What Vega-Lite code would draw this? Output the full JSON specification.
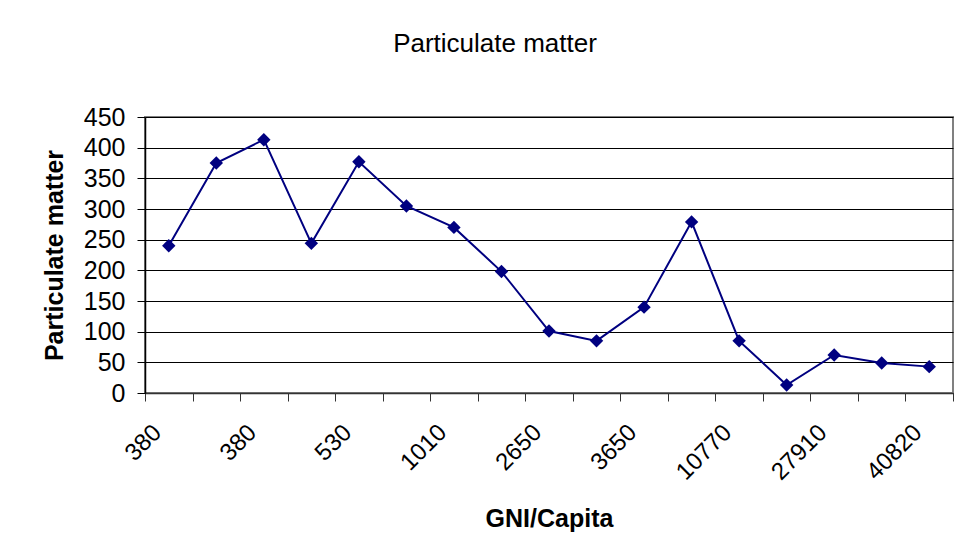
{
  "$schema": "https://vega.github.io/schema/vega-lite/v6.json",
  "width": 808,
  "height": 276,
  "autosize": "none",
  "padding": {"left": 145, "top": 117, "right": 5, "bottom": 162},
  "background": "white",
  "title": {
    "text": "Particulate matter",
    "font": "Liberation Sans",
    "fontSize": 26,
    "fontWeight": "normal",
    "color": "#000000",
    "anchor": "middle",
    "dx": -54,
    "offset": 48
  },
  "data": {
    "values": [
      {"n": 1, "gni": "380", "pm": 240},
      {"n": 2, "gni": "", "pm": 375},
      {"n": 3, "gni": "380", "pm": 413},
      {"n": 4, "gni": "", "pm": 244},
      {"n": 5, "gni": "530", "pm": 377},
      {"n": 6, "gni": "", "pm": 305},
      {"n": 7, "gni": "1010", "pm": 270},
      {"n": 8, "gni": "", "pm": 198},
      {"n": 9, "gni": "2650", "pm": 101},
      {"n": 10, "gni": "", "pm": 85},
      {"n": 11, "gni": "3650", "pm": 140},
      {"n": 12, "gni": "", "pm": 279},
      {"n": 13, "gni": "10770", "pm": 85},
      {"n": 14, "gni": "", "pm": 13},
      {"n": 15, "gni": "27910", "pm": 62},
      {"n": 16, "gni": "", "pm": 49},
      {"n": 17, "gni": "40820", "pm": 43}
    ]
  },
  "encoding": {
    "x": {
      "field": "n",
      "type": "ordinal",
      "scale": {"type": "band", "paddingInner": 0, "paddingOuter": 0},
      "axis": {
        "title": "GNI/Capita",
        "titleFont": "Liberation Sans",
        "titleFontSize": 25,
        "titleFontWeight": "bold",
        "titleColor": "#000000",
        "titlePadding": 22,
        "labelExpr": "['380','','380','','530','','1010','','2650','','3650','','10770','','27910','','40820'][datum.value - 1]",
        "labelAngle": -45,
        "labelFont": "Liberation Sans",
        "labelFontSize": 24,
        "labelColor": "#000000",
        "labelPadding": 19,
        "labelOffset": -20,
        "labelOverlap": false,
        "tickBand": "extent",
        "tickSize": 8,
        "tickColor": "#333333",
        "tickWidth": 1,
        "domainColor": "#333333",
        "domainWidth": 1.5,
        "grid": false
      }
    },
    "y": {
      "field": "pm",
      "type": "quantitative",
      "scale": {"domain": [0, 450], "nice": false, "zero": true},
      "axis": {
        "title": "Particulate matter",
        "titleFont": "Liberation Sans",
        "titleFontSize": 25,
        "titleFontWeight": "bold",
        "titleColor": "#000000",
        "titlePadding": 16,
        "values": [0, 50, 100, 150, 200, 250, 300, 350, 400, 450],
        "labelFont": "Liberation Sans",
        "labelFontSize": 25,
        "labelColor": "#000000",
        "labelPadding": 12,
        "tickSize": 8,
        "tickColor": "#000000",
        "tickWidth": 1,
        "domainColor": "#000000",
        "domainWidth": 1.5,
        "grid": true,
        "gridColor": "#000000",
        "gridWidth": 1
      }
    }
  },
  "layer": [
    {
      "mark": {"type": "line", "color": "#000080", "strokeWidth": 2}
    },
    {
      "mark": {"type": "point", "shape": "diamond", "filled": true, "color": "#000080", "size": 180, "opacity": 1}
    }
  ],
  "config": {
    "view": {"stroke": "#808080", "strokeWidth": 2}
  }
}
